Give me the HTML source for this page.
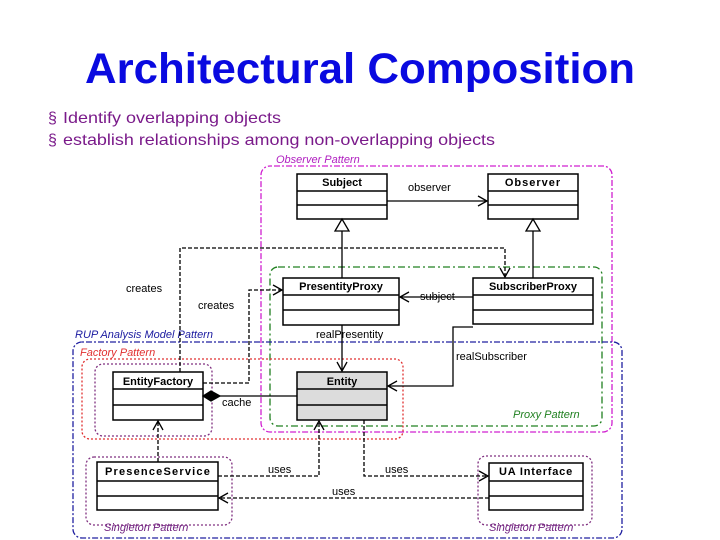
<!DOCTYPE html>
<html><head><meta charset="utf-8"><style>
html,body{margin:0;padding:0;background:#fff;width:720px;height:540px;overflow:hidden}
svg{display:block}
</style></head><body>
<svg width="720" height="540" viewBox="0 0 720 540" xmlns="http://www.w3.org/2000/svg" font-family="Liberation Sans, sans-serif">
<defs>
<marker id="oa" markerWidth="12" markerHeight="12" refX="10" refY="6" orient="auto" markerUnits="userSpaceOnUse"><path d="M1,1 L10,6 L1,11" fill="none" stroke="#000" stroke-width="1.3"/></marker>
</defs>
<text x="360" y="83" text-anchor="middle" font-size="43" font-weight="bold" fill="#0a0ae0" textLength="550" lengthAdjust="spacingAndGlyphs">Architectural Composition</text>
<g font-size="16" fill="#7a1a8a">
<text x="48" y="123">§</text>
<text x="63" y="123" textLength="218" lengthAdjust="spacingAndGlyphs">Identify overlapping objects</text>
<text x="48" y="145">§</text>
<text x="63" y="145" textLength="432" lengthAdjust="spacingAndGlyphs">establish relationships among non-overlapping objects</text>
</g>
<!-- pattern frames -->
<rect x="261" y="166" width="351" height="266" rx="9" fill="none" stroke="#d020d0" stroke-width="1.3" stroke-dasharray="2,2,6,2"/>
<text x="276" y="163" font-size="11" font-style="italic" fill="#b020c0">Observer Pattern</text>
<rect x="270" y="267" width="332" height="159" rx="8" fill="none" stroke="#208020" stroke-width="1.3" stroke-dasharray="7,3,2,3"/>
<text x="513" y="418" font-size="11" font-style="italic" fill="#208020">Proxy Pattern</text>
<rect x="73" y="342" width="549" height="196" rx="9" fill="none" stroke="#2020a0" stroke-width="1.3" stroke-dasharray="2,2,6,2"/>
<text x="75" y="338" font-size="11" font-style="italic" fill="#1a1aa0">RUP Analysis Model Pattern</text>
<rect x="82" y="359" width="321" height="80" rx="8" fill="none" stroke="#e03030" stroke-width="1.3" stroke-dasharray="2,2"/>
<text x="80" y="356" font-size="11" font-style="italic" fill="#e03030">Factory Pattern</text>
<rect x="95" y="364" width="117" height="72" rx="8" fill="none" stroke="#803080" stroke-width="1.3" stroke-dasharray="2,2"/>
<rect x="86" y="457" width="146" height="68" rx="8" fill="none" stroke="#803080" stroke-width="1.3" stroke-dasharray="2,2"/>
<text x="104" y="531" font-size="11" font-style="italic" fill="#702080">Singleton Pattern</text>
<rect x="478" y="456" width="114" height="69" rx="8" fill="none" stroke="#803080" stroke-width="1.3" stroke-dasharray="2,2"/>
<text x="489" y="531" font-size="11" font-style="italic" fill="#702080">Singleton Pattern</text>
<!-- classes -->
<g stroke="#000" stroke-width="1.5" fill="#fff" font-size="11" font-weight="bold">
<rect x="297" y="174" width="90" height="45"/><line x1="297" y1="191" x2="387" y2="191"/><line x1="297" y1="205" x2="387" y2="205"/>
<rect x="488" y="174" width="90" height="45"/><line x1="488" y1="191" x2="578" y2="191"/><line x1="488" y1="205" x2="578" y2="205"/>
<rect x="283" y="278" width="116" height="47"/><line x1="283" y1="295" x2="399" y2="295"/><line x1="283" y1="310" x2="399" y2="310"/>
<rect x="473" y="278" width="120" height="46"/><line x1="473" y1="295" x2="593" y2="295"/><line x1="473" y1="310" x2="593" y2="310"/>
<rect x="113" y="372" width="90" height="48"/><line x1="113" y1="389" x2="203" y2="389"/><line x1="113" y1="405" x2="203" y2="405"/>
<rect x="297" y="372" width="90" height="48" fill="#dcdcdc"/><line x1="297" y1="389" x2="387" y2="389"/><line x1="297" y1="405" x2="387" y2="405"/>
<rect x="97" y="462" width="121" height="48"/><line x1="97" y1="481" x2="218" y2="481"/><line x1="97" y1="496" x2="218" y2="496"/>
<rect x="489" y="463" width="94" height="47"/><line x1="489" y1="481" x2="583" y2="481"/><line x1="489" y1="496" x2="583" y2="496"/>
</g>
<g font-size="11" font-weight="bold" fill="#000">
<text x="342" y="186" text-anchor="middle">Subject</text>
<text x="533" y="186" text-anchor="middle" letter-spacing="1">Observer</text>
<text x="341" y="290" text-anchor="middle">PresentityProxy</text>
<text x="533" y="290" text-anchor="middle">SubscriberProxy</text>
<text x="158" y="385" text-anchor="middle">EntityFactory</text>
<text x="342" y="385" text-anchor="middle">Entity</text>
<text x="158" y="475" text-anchor="middle" letter-spacing="1.2">PresenceService</text>
<text x="536" y="475" text-anchor="middle" letter-spacing="0.8">UA Interface</text>
</g>
<!-- solid connectors -->
<g stroke="#000" stroke-width="1.3" fill="none">
<line x1="387" y1="201" x2="487" y2="201" marker-end="url(#oa)"/>
<path d="M342,219 L335,231 L349,231 Z" fill="#fff"/><line x1="342" y1="231" x2="342" y2="278"/>
<path d="M533,219 L526,231 L540,231 Z" fill="#fff"/><line x1="533" y1="231" x2="533" y2="278"/>
<line x1="473" y1="297" x2="400" y2="297" marker-end="url(#oa)"/>
<line x1="342" y1="325" x2="342" y2="371" marker-end="url(#oa)"/>
<path d="M473,327 L453,327 L453,386 L388,386" marker-end="url(#oa)"/>
<line x1="220" y1="396" x2="297" y2="396"/>
<path d="M203,396 L211,391 L220,396 L211,401 Z" fill="#000"/>
</g>
<!-- dashed connectors -->
<g stroke="#000" stroke-width="1.3" fill="none" stroke-dasharray="4,2">
<path d="M180,372 L180,248 L505,248 L505,277" marker-end="url(#oa)"/>
<path d="M203,383 L249,383 L249,290 L282,290" marker-end="url(#oa)"/>
<line x1="158" y1="462" x2="158" y2="421" marker-end="url(#oa)"/>
<path d="M218,476 L319,476 L319,421" marker-end="url(#oa)"/>
<path d="M364,420 L364,476 L488,476" marker-end="url(#oa)"/>
<line x1="489" y1="498" x2="219" y2="498" marker-end="url(#oa)"/>
</g>
<g font-size="11" fill="#000">
<text x="408" y="191">observer</text>
<text x="126" y="292">creates</text>
<text x="198" y="309">creates</text>
<text x="420" y="300">subject</text>
<text x="316" y="338">realPresentity</text>
<text x="456" y="360">realSubscriber</text>
<text x="222" y="406">cache</text>
<text x="268" y="473">uses</text>
<text x="385" y="473">uses</text>
<text x="332" y="495">uses</text>
</g>
</svg>
</body></html>
